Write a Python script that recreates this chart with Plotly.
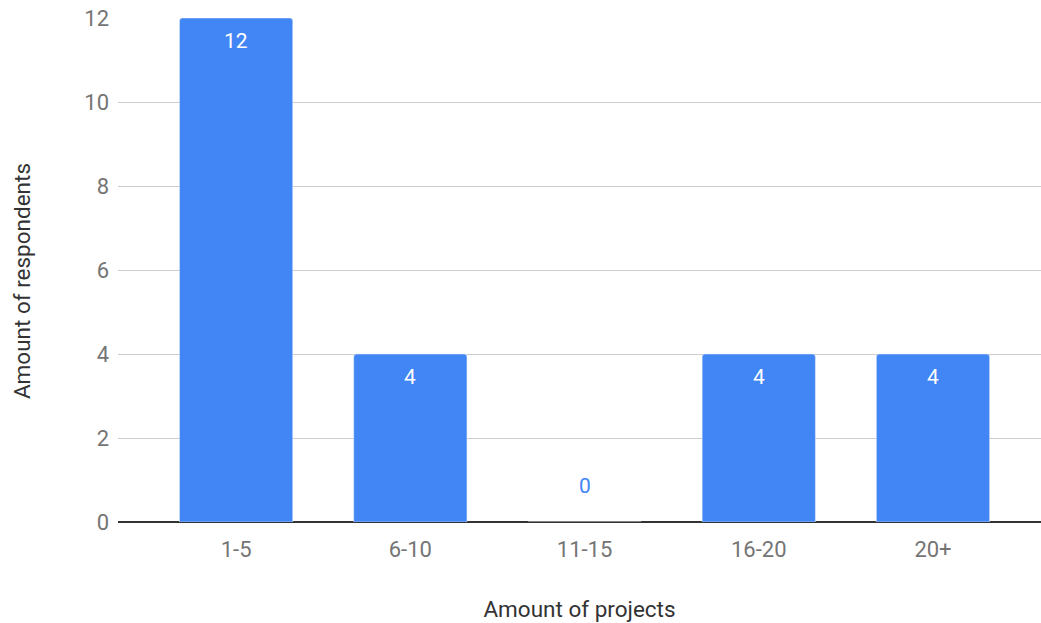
import plotly.graph_objects as go

categories = ["1-5", "6-10", "11-15", "16-20", "20+"]
respondents = [12, 4, 0, 4, 4]

BAR = "#4285F4"
FONT = "Roboto, Arial, sans-serif"

fig = go.Figure(
    go.Bar(
        x=categories,
        y=respondents,
        marker=dict(color=BAR, cornerradius=3),
        hoverinfo="x+y",
    )
)

# value labels: inside the top of each bar, or above the axis for empty bars
annotations = []
for cat, val in zip(categories, respondents):
    if val > 0:
        annotations.append(dict(
            x=cat, y=val, xref="x", yref="y", text=str(val), showarrow=False,
            yanchor="middle", yshift=-23,
            font=dict(family=FONT, size=21, color="white"),
        ))
    else:
        annotations.append(dict(
            x=cat, y=val, xref="x", yref="y", text=str(val), showarrow=False,
            yanchor="middle", yshift=36,
            font=dict(family=FONT, size=21, color=BAR),
        ))

# vertical axis title, centred on the whole chart height
annotations.append(dict(
    text="Amount of respondents", textangle=-90, showarrow=False,
    xref="paper", yref="paper", x=-0.104, y=0.478,
    xanchor="center", yanchor="middle",
    font=dict(family=FONT, size=22.5, color="#333333"),
))

fig.update_layout(
    width=1041,
    height=623,
    margin=dict(l=118, r=0, t=18, b=101),
    paper_bgcolor="white",
    plot_bgcolor="white",
    bargap=0.35,
    showlegend=False,
    font=dict(family=FONT, size=22, color="#757575"),
    annotations=annotations,
    xaxis=dict(
        type="category",
        range=[-0.678, 4.62],
        showgrid=False,
        showline=False,
        ticks="",
        ticklabelstandoff=12,
        tickfont=dict(size=22, color="#757575"),
        title=dict(text="Amount of projects", standoff=40,
                   font=dict(size=22.5, color="#333333")),
    ),
    yaxis=dict(
        range=[0, 12],
        dtick=2,
        showgrid=True,
        gridcolor="#cccccc",
        gridwidth=1,
        zeroline=True,
        zerolinecolor="#333333",
        zerolinewidth=1.5,
        showline=False,
        ticks="",
        ticklabelstandoff=8,
        tickfont=dict(size=22, color="#757575"),
    ),
)

fig.write_html("out.html")
